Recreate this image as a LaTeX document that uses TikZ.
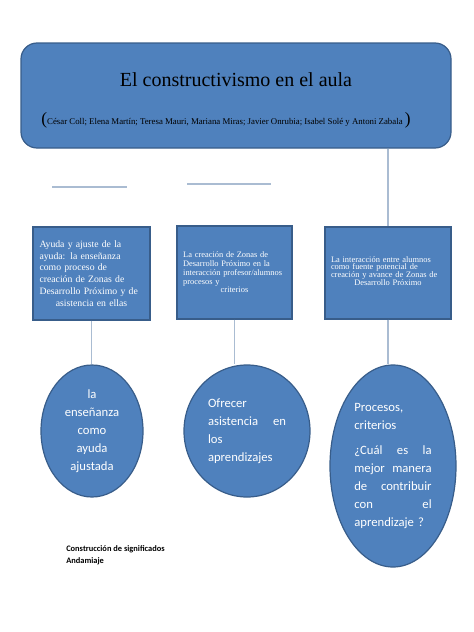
\documentclass[tikz,border=0pt]{standalone}
\usepackage{fontspec}
\setmainfont{Liberation Serif}
\newfontfamily\calibri{Carlito}
\usetikzlibrary{shapes.geometric,positioning,calc}
\definecolor{boxblue}{RGB}{79,129,189}
\definecolor{boxline}{RGB}{56,93,138}
\definecolor{linkgray}{RGB}{170,188,210}
\tikzstyle{titlebox} = [rectangle, rounded corners=12pt, draw=boxline, line width=0.9pt, fill=boxblue, minimum width=322.5pt, minimum height=78.75pt, inner sep=0pt]
\tikzstyle{topic} = [rectangle, draw=boxline, line width=0.9pt, fill=boxblue, text=white, minimum height=69.75pt, inner sep=2pt, font=\fontsize{7.3}{8.8}\selectfont]
\tikzstyle{idea} = [ellipse, draw=boxline, line width=0.9pt, fill=boxblue, text=white, inner sep=0pt, font=\calibri\fontsize{9.5}{13.5}\selectfont]
\tikzstyle{link} = [linkgray, line width=0.8pt]
\begin{document}
\begin{tikzpicture}[x=0.75pt,y=-0.75pt]
\useasboundingbox (0,0) rectangle (474,632);
\draw (236,95.5) node (aula) [titlebox] {};
\draw (236,80) node (titulo) {\fontsize{15}{18}\selectfont El constructivismo en el aula};
\draw (226,120) node (autores) {\fontsize{13}{13}\selectfont(\fontsize{6.6}{8}\selectfont César Coll; Elena Martín; Teresa Mauri, Mariana Miras; Javier Onrubia; Isabel Solé y Antoni Zabala \fontsize{13}{13}\selectfont)};
%% the three topics
\draw (91.5,273.5) node (ayuda) [topic, minimum width=87.75pt, text width=78pt] {{\raggedright Ayuda y ajuste de la\\ ayuda: la enseñanza\\ como proceso de\\ creación de Zonas de\\ Desarrollo Próximo y de\par}\centering asistencia en ellas\par};
\draw (234.5,272.5) node (zonas) [topic, minimum width=86.25pt, text width=77pt, font=\fontsize{6.3}{6.6}\selectfont] {{\raggedright La creación de Zonas de\\ Desarrollo Próximo en la\\ interacción profesor/alumnos\\ procesos y\par}\centering criterios\par};
\draw (388,273) node (interac) [topic, minimum width=94.5pt, minimum height=69pt, text width=85.5pt, font=\fontsize{6.3}{5.9}\selectfont] {{\raggedright La interacción entre alumnos\\ como fuente potencial de\\ creación y avance de Zonas de\par}\centering Desarrollo Próximo\par\vspace{3pt}};
%% the three ideas
\draw (92,431) node (ensen) [idea, minimum width=76.5pt, minimum height=99pt, align=center] {la\\ enseñanza\\ como\\ ayuda\\ ajustada};
\draw (247,431) node (ofrecer) [idea, minimum width=94.5pt, minimum height=99pt, text width=58.5pt] {\raggedright Ofrecer\\ asistencia\hfill en\\ los\\ aprendizajes\par};
\draw (393,466) node (procesos) [idea, minimum width=94.5pt, minimum height=151.5pt, text width=58pt] {\raggedright Procesos,\\ criterios\par\vspace{5pt}¿Cuál\hfill es\hfill la\\ mejor\hfill manera\\ de\hfill contribuir\\ con\hfill el\\ aprendizaje ?\par};
\draw (66,545) node (constr) [anchor=north west, inner sep=0pt, align=left, font=\calibri\bfseries\fontsize{6.3}{9}\selectfont] {Construcción de significados\\ Andamiaje};
%% connectors
\coordinate (h1a) at (52,187);
\coordinate (h1b) at (127,187);
\coordinate (h2a) at (187,184);
\coordinate (h2b) at (271,184);
\draw[link] (h1a)--(h1b);
\draw[link] (h2a)--(h2b);
\draw[link] (interac.north |- aula.south)--(interac.north);
\draw[link] (ayuda.south)--(ayuda.south |- ensen.north);
\draw[link] (zonas.south)--(zonas.south |- ofrecer.north);
\draw[link] (interac.south)--(interac.south |- procesos.north);
\end{tikzpicture}
\end{document}
